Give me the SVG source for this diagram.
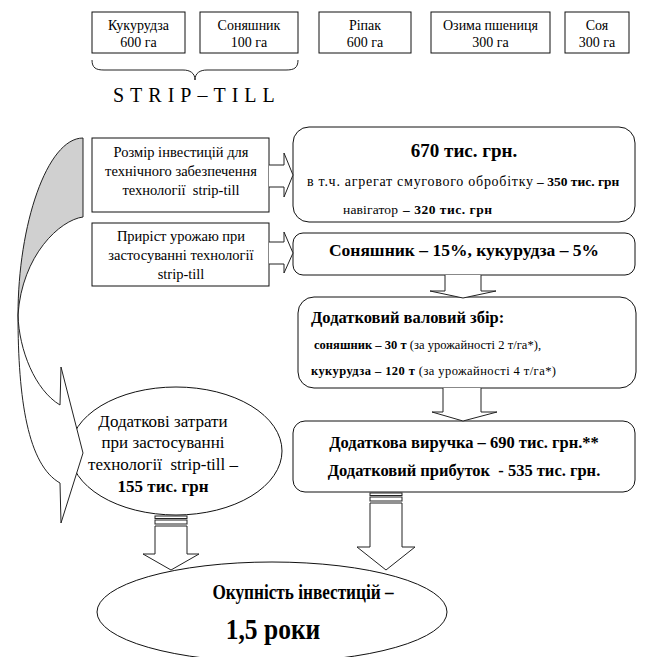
<svg xmlns="http://www.w3.org/2000/svg" width="652" height="657" viewBox="0 0 652 657" font-family="'Liberation Serif', 'DejaVu Serif', serif">
<style>
text{font-family:'Liberation Serif','DejaVu Serif',serif;fill:#000}
.b{font-weight:bold}
.box{fill:#fff;stroke:#111;stroke-width:1}
.arr{fill:#fff;stroke:#222;stroke-width:1;stroke-linejoin:miter}
</style>
<rect width="652" height="657" fill="#fff"/>

<g id="crop-kukurudza">
<rect class="box" x="92" y="12" width="93" height="41"/>
<text x="138.5" y="30" font-size="14" text-anchor="middle">Кукурудза</text>
<text x="138.5" y="47" font-size="14" text-anchor="middle">600 га</text>
</g>
<g id="crop-soniashnyk">
<rect class="box" x="200" y="12" width="98" height="41"/>
<text x="249" y="30" font-size="14" text-anchor="middle">Соняшник</text>
<text x="249" y="47" font-size="14" text-anchor="middle">100 га</text>
</g>
<g id="crop-ripak">
<rect class="box" x="319" y="12" width="92" height="41"/>
<text x="365" y="30" font-size="14" text-anchor="middle">Ріпак</text>
<text x="365" y="47" font-size="14" text-anchor="middle">600 га</text>
</g>
<g id="crop-pshenytsia">
<rect class="box" x="431" y="12" width="119" height="41"/>
<text x="490.5" y="30" font-size="14" text-anchor="middle">Озима пшениця</text>
<text x="490.5" y="47" font-size="14" text-anchor="middle">300 га</text>
</g>
<g id="crop-soia">
<rect class="box" x="565" y="12" width="64" height="41"/>
<text x="597" y="30" font-size="14" text-anchor="middle">Соя</text>
<text x="597" y="47" font-size="14" text-anchor="middle">300 га</text>
</g>

<g id="strip-till-label">
<path d="M92,60 C92,68 96,70 104,70 L183,70 C190,70 195,73 195,80 C195,73 200,70 207,70 L286,70 C294,70 298,68 298,60" fill="none" stroke="#222" stroke-width="1"/>
<text x="113" y="102" font-size="20" letter-spacing="6">STRIP–TILL</text>
</g>

<g id="invest-label">
<rect class="box" x="92" y="138" width="177" height="74"/>
<text x="181" y="157" font-size="14.5" text-anchor="middle">Розмір інвестицій для</text>
<text x="181" y="176" font-size="14.5" text-anchor="middle">технічного забезпечення</text>
<text x="181" y="195" font-size="14.5" text-anchor="middle" xml:space="preserve">технології  strip-till</text>
</g>
<g id="yield-label">
<rect class="box" x="92" y="223" width="177" height="63"/>
<text x="181" y="241" font-size="14.5" text-anchor="middle">Приріст урожаю при</text>
<text x="181" y="260" font-size="14.5" text-anchor="middle">застосуванні технології</text>
<text x="181" y="279" font-size="14.5" text-anchor="middle">strip-till</text>
</g>

<g id="invest-value">
<rect class="box" x="293" y="127" width="342" height="95" rx="16"/>
<text class="b" x="464" y="157" font-size="19" text-anchor="middle">670 тис. грн.</text>
<text y="186" font-size="14"><tspan x="307" textLength="226" lengthAdjust="spacing">в т.ч. агрегат смугового обробітку</tspan><tspan class="b" x="537" font-size="13.5">– 350 тис. грн</tspan></text>
<text y="214" font-size="13.5"><tspan x="343" textLength="55" lengthAdjust="spacing">навігатор</tspan><tspan class="b" x="403" textLength="89" lengthAdjust="spacing">– 320 тис. грн</tspan></text>
</g>
<g id="yield-value">
<rect class="box" x="293" y="233" width="342" height="42" rx="10"/>
<text class="b" x="464" y="256" font-size="17.5" text-anchor="middle">Соняшник – 15%, кукурудза – 5%</text>
</g>
<g id="gross-harvest">
<rect class="box" x="298" y="297" width="338" height="91" rx="16"/>
<text class="b" x="311" y="323" font-size="16.5">Додатковий валовий збір:</text>
<text x="314" y="349" font-size="12.5" textLength="227" lengthAdjust="spacing"><tspan class="b">соняшник – 30 т</tspan> (за урожайності 2 т/га*),</text>
<text x="311" y="375" font-size="12.5" textLength="245" lengthAdjust="spacing"><tspan class="b">кукурудза – 120 т</tspan> (за урожайності 4 т/га*)</text>
</g>
<g id="revenue">
<rect class="box" x="293" y="421" width="342" height="71" rx="12"/>
<text class="b" x="464" y="448" font-size="16.5" text-anchor="middle">Додаткова виручка – 690 тис. грн.**</text>
<text class="b" x="464" y="476" font-size="16.5" text-anchor="middle" xml:space="preserve">Додатковий прибуток  - 535 тис. грн.</text>
</g>
<g id="extra-costs">
<ellipse class="box" cx="176" cy="451" rx="106" ry="64"/>
<text x="163" y="427" font-size="17" text-anchor="middle">Додаткові затрати</text>
<text x="163" y="448" font-size="17" text-anchor="middle">при застосуванні</text>
<text x="163" y="470" font-size="17" text-anchor="middle" xml:space="preserve">технології  strip-till –</text>
<text class="b" x="163" y="492" font-size="17" text-anchor="middle">155 тис. грн</text>
</g>
<g id="payback">
<ellipse class="box" cx="272" cy="612" rx="175" ry="50"/>
<text class="b" transform="translate(303,599) scale(0.82,1)" font-size="21" text-anchor="middle">Окупність інвестицій –</text>
<text class="b" transform="translate(273,639) scale(0.85,1)" font-size="30" text-anchor="middle">1,5 роки</text>
</g>

<g id="connectors">
<path class="arr" d="M269,165 L284,165 L284,153 L293,175 L284,197 L284,187 L269,187"/>
<path class="arr" d="M269,242 L284,242 L284,232 L293,253 L284,273 L284,264 L269,264"/>
<path class="arr" d="M445,275 L445,291 L430,291 L463,298 L496,291 L481,291 L481,275"/>
<path class="arr" d="M443,388 L443,412 L432,412 L463,421 L497,412 L481,412 L481,388"/>
<g id="curved-arrow">
<path d="M83,138 C47,138 18,225 18,315 C22,255 60,220 83,217 Z" fill="#d0d0d0" stroke="#222" stroke-width="1"/>
<path d="M18,315 C18,400 28,465 60,483 L61,523 L83,453 L61,367 L60,405 C35,390 19,350 18,315 Z" fill="#fff" stroke="#222" stroke-width="1"/>
</g>
<g id="striped-left">
<rect class="arr" x="155" y="516" width="32" height="2.5"/>
<rect class="arr" x="155" y="520" width="32" height="4"/>
<path class="arr" d="M155,526 L187,526 L187,554 L199,554 L171,570 L143,554 L155,554 Z"/>
</g>
<g id="striped-right">
<rect class="arr" x="370" y="493" width="32" height="2.5"/>
<rect class="arr" x="370" y="497" width="32" height="4"/>
<path class="arr" d="M370,503 L402,503 L402,547 L415,547 L386,570 L357,547 L370,547 Z"/>
</g>
</g>
</svg>
